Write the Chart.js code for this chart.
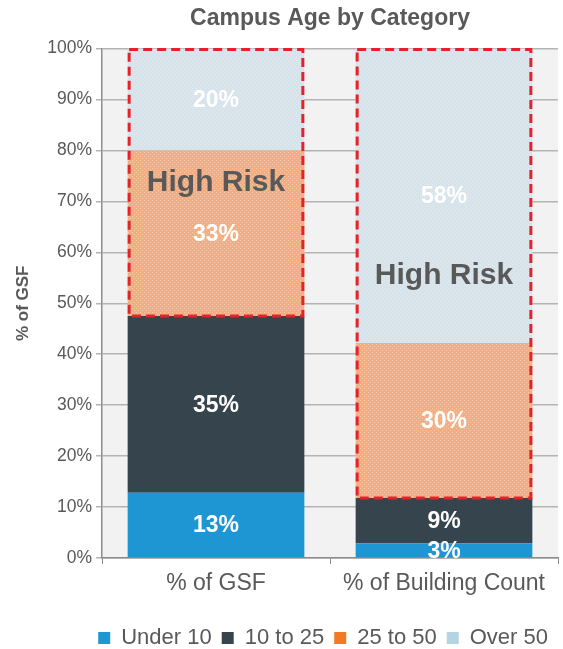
<!DOCTYPE html>
<html lang="en">
  <head>
    <meta charset="UTF-8" />
    <title>Campus Age by Category</title>
    <style>
      body {
        margin: 0;
        background: #ffffff;
      }
      .chart-container {
        position: relative;
        width: 563px;
        height: 649px;
      }
    </style>
    <script src="https://cdn.jsdelivr.net/npm/chart.js"></script>
  </head>
  <body>
    <div class="chart-container">
      <canvas id="myChart" width="563" height="649"></canvas>
    </div>

    <script>
      // values (segment shares, in %)
      const categories = ['% of GSF', '% of Building Count'];
      const seriesNames = ['Under 10', '10 to 25', '25 to 50', 'Over 50'];
      const under10 = [12.8, 2.9];
      const tenTo25 = [34.7, 8.9];
      const twentyFiveTo50 = [32.5, 30.4];
      const over50 = [20.0, 57.8];
      const riskLabel = 'High Risk';

      const legendColors = ['#1f97d5', '#36444e', '#f17a22', '#b5d4e1'];
      const font = '"Liberation Sans", Arial, sans-serif';
      const grey = '#595959';

      window.addEventListener('load', setup);

      function dotted(ctx, base) {
        const c = document.createElement('canvas');
        c.width = 4;
        c.height = 4;
        const g = c.getContext('2d');
        g.fillStyle = base;
        g.fillRect(0, 0, 4, 4);
        g.fillStyle = 'rgba(255,255,255,0.35)';
        g.fillRect(0, 0, 1, 1);
        g.fillRect(2, 2, 1, 1);
        return ctx.createPattern(c, 'repeat');
      }

      // grey plot background
      const plotBg = {
        id: 'plotBg',
        beforeDraw(chart) {
          const a = chart.chartArea;
          const ctx = chart.ctx;
          ctx.save();
          ctx.fillStyle = '#f2f2f2';
          ctx.fillRect(a.left, a.top, a.right - a.left, a.bottom - a.top);
          ctx.restore();
        }
      };

      // white % labels in each segment
      const segLabels = {
        id: 'segLabels',
        afterDatasetsDraw(chart) {
          const ctx = chart.ctx;
          ctx.save();
          ctx.fillStyle = '#ffffff';
          ctx.font = 'bold 23px ' + font;
          ctx.textAlign = 'center';
          ctx.textBaseline = 'middle';
          chart.data.datasets.forEach((ds, d) => {
            chart.getDatasetMeta(d).data.forEach((bar, i) => {
              const y = (bar.y + bar.base) / 2;
              ctx.fillText(Math.round(ds.data[i]) + '%', bar.x, y + 1);
            });
          });
          ctx.restore();
        }
      };

      // red dashed box round the two older groups + "High Risk"
      const riskBox = {
        id: 'riskBox',
        afterDatasetsDraw(chart, args, opts) {
          const ctx = chart.ctx;
          const yScale = chart.scales.y;
          const lower = chart.getDatasetMeta(2).data;
          const upper = chart.getDatasetMeta(3).data;
          ctx.save();
          lower.forEach((bar, i) => {
            const left = bar.x - bar.width / 2 + 1.5;
            const right = bar.x + bar.width / 2 - 1.5;
            const top = upper[i].y + 1;
            const bottom = bar.base;
            ctx.strokeStyle = '#e5222b';
            ctx.lineWidth = 3;
            ctx.setLineDash([9, 5]);
            ctx.strokeRect(left, top, right - left, bottom - top);
            ctx.setLineDash([]);
            ctx.fillStyle = grey;
            ctx.font = 'bold 30px ' + font;
            ctx.textAlign = 'center';
            ctx.textBaseline = 'middle';
            ctx.fillText(riskLabel, bar.x, yScale.getPixelForValue(opts.at[i]));
          });
          ctx.restore();
        }
      };

      function setup() {
        const ctx = document.getElementById('myChart').getContext('2d');

        const fills = [
          '#1e96d4',
          '#36444e',
          dotted(ctx, '#f5ad80'),
          dotted(ctx, '#d6e3eb')
        ];
        const values = [under10, tenTo25, twentyFiveTo50, over50];

        const datasets = seriesNames.map((name, i) => ({
          label: name,
          data: values[i],
          backgroundColor: fills[i],
          borderWidth: 0,
          categoryPercentage: 1,
          barPercentage: 0.775
        }));

        const myChart = new Chart(ctx, {
          type: 'bar',
          data: {
            labels: categories,
            datasets: datasets
          },
          plugins: [plotBg, segLabels, riskBox],
          options: {
            responsive: false,
            animation: false,
            layout: {
              padding: { left: 0, right: 5, top: 0, bottom: -10 }
            },
            scales: {
              x: {
                stacked: true,
                afterFit(scale) {
                  scale.height = 59;
                },
                grid: {
                  offset: true,
                  drawOnChartArea: false,
                  color: '#8c8c8c',
                  tickLength: 6
                },
                border: { color: '#8c8c8c', width: 1.5 },
                ticks: {
                  color: grey,
                  font: { family: font, size: 23 },
                  padding: 6
                }
              },
              y: {
                stacked: true,
                min: 0,
                max: 100,
                afterFit(scale) {
                  scale.width = 102;
                },
                ticks: {
                  stepSize: 10,
                  color: grey,
                  font: { family: font, size: 17.5 },
                  padding: 4,
                  callback: v => v + '%'
                },
                grid: {
                  color: '#b4b4b4',
                  lineWidth: 1.5,
                  tickLength: 6
                },
                border: { color: '#8c8c8c', width: 1.5 },
                title: {
                  display: true,
                  text: '% of GSF',
                  color: grey,
                  font: { family: font, size: 17, weight: 'bold' },
                  padding: { top: 13, bottom: 4 }
                }
              }
            },
            plugins: {
              riskBox: { at: [73.7, 55.4] },
              title: {
                display: true,
                text: 'Campus Age by Category',
                fullSize: false,
                color: grey,
                font: { family: font, size: 23, weight: 'bold' },
                padding: { top: 5, bottom: 16 }
              },
              legend: {
                position: 'bottom',
                align: 'end',
                labels: {
                  color: grey,
                  font: { family: font, size: 22 },
                  boxWidth: 12,
                  boxHeight: 12,
                  padding: 10,
                  generateLabels(chart) {
                    return Chart.defaults.plugins.legend.labels.generateLabels(chart)
                      .map((l, i) => ({
                        ...l,
                        fillStyle: legendColors[i],
                        strokeStyle: legendColors[i],
                        lineWidth: 0
                      }));
                  }
                }
              },
              tooltip: { enabled: false }
            }
          }
        });
      }
    </script>
  </body>
</html>
